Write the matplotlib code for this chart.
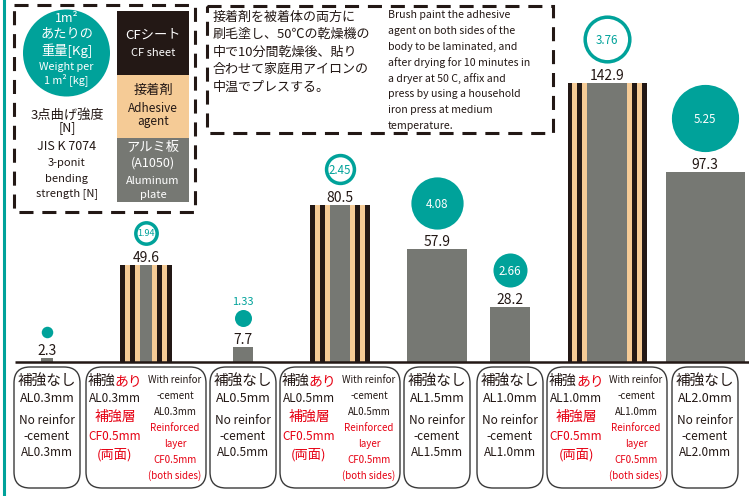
import matplotlib
matplotlib.use("Agg")
import matplotlib.pyplot as plt
from matplotlib.patches import Rectangle, FancyBboxPatch, Circle
from matplotlib.transforms import offset_copy

plt.rcParams['font.family'] = ['Noto Sans CJK JP', 'DejaVu Sans']

# data
strength = [2.3, 49.6, 7.7, 80.5, 57.9, 28.2, 142.9, 97.3]       # 3-point bending strength [N]
weight = [0.9, 1.94, 1.33, 2.45, 4.08, 2.66, 3.76, 5.25]          # kg per m2 (first one not printed)
weight_text = ["", "1.94", "1.33", "2.45", "4.08", "2.66", "3.76", "5.25"]
al_mm = [0.3, 0.3, 0.5, 0.5, 1.5, 1.0, 1.0, 2.0]                  # aluminium plate thickness
cf_mm = [0, 0.5, 0, 0.5, 0, 0, 0.5, 0]                            # CF layer per side
al_text = ["AL0.3mm", "AL0.3mm", "AL0.5mm", "AL0.5mm", "AL1.5mm", "AL1.0mm", "AL1.0mm", "AL2.0mm"]

# layout
centers = [47, 146, 243, 340, 437, 510, 607, 705]
W, H = 749, 496
BASE = 362          # pixel row of the baseline
PX_N = 1.952        # px per N
PX_MM = 39.5        # px per mm of thickness
R_PX = 6.4          # circle radius px per kg/m2

DARK = '#231815'
TAN = '#F5CB96'
GRAY = '#767873'
TEAL = '#00A29A'
RED = '#E60012'

fig = plt.figure(figsize=(W / 100, H / 100), dpi=100)
ax = fig.add_axes([0, 0, 1, 1])
ax.set_xlim(0, W)
ax.set_ylim(-(H - BASE) / PX_N, BASE / PX_N)
ax.axis('off')

for i, v in enumerate(strength):
    c = centers[i]
    a = al_mm[i] * PX_MM
    s = cf_mm[i] * PX_MM
    if s == 0:
        ax.bar(c, v, width=a, color=GRAY, linewidth=0)
    else:
        widths = [s / 4] * 4 + [a] + [s / 4] * 4
        cols = [DARK, TAN, DARK, TAN, GRAY, TAN, DARK, TAN, DARK]
        left = c - a / 2 - s
        for w, col in zip(widths, cols):
            ax.bar(left, v, width=w + 0.3, align='edge', color=col, linewidth=0)
            left += w

    # value label
    ax.annotate(f"{v}", (c, v), xytext=(0, 3), textcoords='offset pixels',
                ha='center', va='baseline', fontsize=10, color=DARK)

    # weight circle
    r = weight[i] * R_PX
    tr = offset_copy(ax.transData, fig=fig, x=0, y=20 + r, units='dots')
    if cf_mm[i] > 0:
        lw = 3.5
        d = 2 * r - lw
        ax.scatter([c], [v], s=(d * 0.72) ** 2, facecolors='white', edgecolors=TEAL,
                   linewidths=lw * 0.72, transform=tr, zorder=3)
        tcol = TEAL
    else:
        ax.scatter([c], [v], s=(2 * r * 0.72) ** 2, color=TEAL, linewidths=0,
                   transform=tr, zorder=3)
        tcol = 'white'
    if weight_text[i]:
        if r >= 12:
            ax.annotate(weight_text[i], (c, v), xytext=(0, 20 + r), textcoords='offset pixels',
                        ha='center', va='center_baseline', color=tcol,
                        fontsize=8.3 if r > 14 else 6.5, zorder=4)
        else:
            ax.annotate(weight_text[i], (c, v), xytext=(0, 20 + 2 * r + 8), textcoords='offset pixels',
                        ha='center', va='center', color=TEAL, fontsize=8, zorder=4)

ax.plot([15, W], [0, 0], color=DARK, lw=1.8, solid_capstyle='butt', zorder=5)

# decorations in pixel coordinates
deco = fig.add_axes([0, 0, 1, 1])
deco.set_xlim(0, W)
deco.set_ylim(H, 0)
deco.axis('off')


def txt(x, y, s, size, color=DARK, ha='center'):
    deco.text(x, y, s, fontsize=size, color=color, ha=ha, va='center')


deco.plot([4, 4], [0, H], color=TEAL, lw=2.2)

# legend box
deco.add_patch(Rectangle((14, 5), 181, 207, fill=False, ec=DARK, lw=2.2, ls=(0, (4.6, 2.9))))
deco.add_patch(Circle((66.5, 53), 43.5, color=TEAL, lw=0))
for y, s, fs in [(19, "1m²", 9), (34, "あたりの", 9.5), (51, "重量[Kg]", 9.5),
                 (67, "Weight per", 7.8), (80, "1 m² [kg]", 7.8)]:
    txt(66.5, y, s, fs, 'white')
for y, s, fs in [(115, "3点曲げ強度", 9.5), (128, "[N]", 9), (146, "JIS K 7074", 9),
                 (163, "3-ponit", 8), (179, "bending", 8), (194, "strength [N]", 8)]:
    txt(67, y, s, fs)
deco.add_patch(Rectangle((117, 11), 72, 64, color=DARK, lw=0))
deco.add_patch(Rectangle((117, 75), 72, 63, color=TAN, lw=0))
deco.add_patch(Rectangle((117, 138), 72, 64, color=GRAY, lw=0))
for y, s, fs, col in [(35, "CFシート", 9.5, 'white'), (53, "CF sheet", 8, 'white'),
                      (90, "接着剤", 9.5, DARK), (108, "Adhesive", 8.5, DARK), (122, "agent", 8.5, DARK),
                      (147, "アルミ板", 9.5, 'white'), (163, "(A1050)", 9, 'white'),
                      (181, "Aluminum", 8, 'white'), (195, "plate", 8, 'white')]:
    txt(153, y, s, fs, col)

# method box
deco.add_patch(Rectangle((207, 6), 346, 127, fill=False, ec=DARK, lw=2.2, ls=(0, (4.6, 2.9))))
jp_lines = ["接着剤を被着体の両方に", "刷毛塗し、50℃の乾燥機の", "中で10分間乾燥後、貼り",
            "合わせて家庭用アイロンの", "中温でプレスする。"]
for k, s in enumerate(jp_lines):
    txt(213, 17 + k * 17.5, s, 9.4, ha='left')
en_lines = ["Brush paint the adhesive", "agent on both sides of the", "body to be laminated, and",
            "after drying for 10 minutes in", "a dryer at 50 C, affix and", "press by using a household",
            "iron press at medium", "temperature."]
for k, s in enumerate(en_lines):
    txt(388, 15 + k * 15.8, s, 7.6, ha='left')

# category boxes
for i, c in enumerate(centers):
    w = 120 if cf_mm[i] > 0 else 66
    x0 = c - w / 2
    deco.add_patch(FancyBboxPatch((x0, 367), w, 121, boxstyle='round,pad=0,rounding_size=16',
                                  fc='white', ec='#3a3a3a', lw=1.0))
    if cf_mm[i] == 0:
        txt(c, 381, "補強なし", 10.5)
        txt(c, 399, al_text[i], 9)
        txt(c, 420, "No reinfor", 8.5)
        txt(c, 436, "-cement", 8.5)
        txt(c, 452, al_text[i], 8.5)
    else:
        lx = x0 + 29
        deco.text(lx, 381, "補強", fontsize=10, color=DARK, ha='right', va='center')
        deco.text(lx, 381, "あり", fontsize=10, color=RED, ha='left', va='center')
        txt(lx, 399, al_text[i], 8.5)
        txt(lx, 417, "補強層", 10, RED)
        txt(lx, 436, "CF0.5mm", 8.5, RED)
        txt(lx, 455, "(両面)", 9.5, RED)
        rx = x0 + 89
        for k, (s, col) in enumerate([("With reinfor", DARK), ("-cement", DARK), (al_text[i], DARK),
                                      ("Reinforced", RED), ("layer", RED), ("CF0.5mm", RED),
                                      ("(both sides)", RED)]):
            txt(rx, 380 + k * 16, s, 7, col)

fig.savefig("out.png", dpi=100)
